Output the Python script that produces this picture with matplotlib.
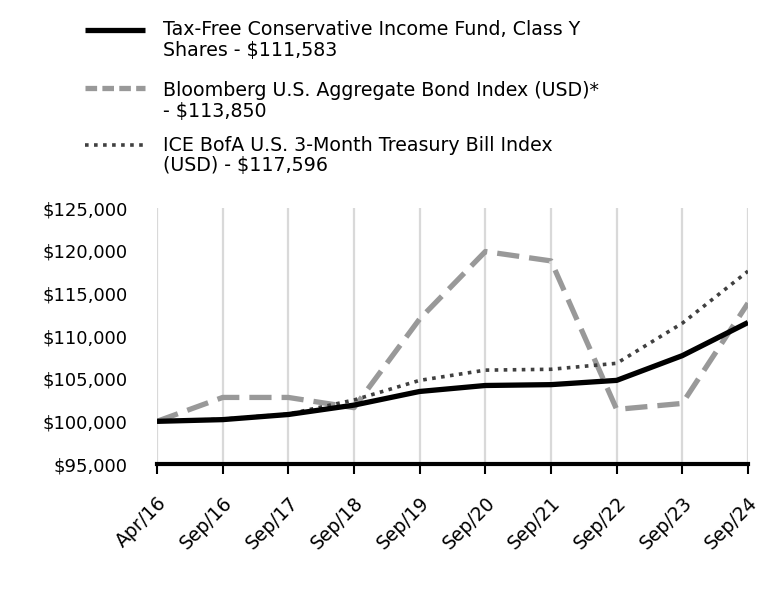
import matplotlib
matplotlib.use("Agg")
import matplotlib.pyplot as plt
from matplotlib.lines import Line2D
from matplotlib.ticker import FuncFormatter

plt.rcParams['font.family'] = ['DejaVu Sans']

dates = ["Apr/16", "Sep/16", "Sep/17", "Sep/18", "Sep/19", "Sep/20", "Sep/21", "Sep/22", "Sep/23", "Sep/24"]
fund = [100000, 100200, 100800, 101900, 103500, 104200, 104300, 104800, 107700, 111583]
bloomberg = [100000, 102800, 102800, 101600, 112000, 119900, 118800, 101400, 102100, 113850]
ice = [100000, 100250, 100850, 102500, 104800, 106000, 106100, 106800, 111500, 117596]

labels = ["Tax-Free Conservative Income Fund, Class Y\nShares - $111,583",
          "Bloomberg U.S. Aggregate Bond Index (USD)*\n- $113,850",
          "ICE BofA U.S. 3-Month Treasury Bill Index\n(USD) - $117,596"]
yticks = [95000, 100000, 105000, 110000, 115000, 120000, 125000]

W, H = 768, 612
fig = plt.figure(figsize=(W/100, H/100), dpi=100)
ax = fig.add_axes([157/W, 1-464/H, (748-157)/W, (464-208)/H])
x = list(range(len(dates)))

styles = [dict(color='black', lw=3.8, solid_capstyle='butt'),
          dict(color='#999999', lw=3.8, dashes=(4.2, 1.9)),
          dict(color='#404040', lw=2.6, dashes=(1, 1.5))]

ax.plot(x, fund, zorder=4, **styles[0])
ax.plot(x, bloomberg, zorder=3, **styles[1])
ax.plot(x, ice, zorder=3, **styles[2])

ax.set_xlim(0, len(dates)-1)
ax.set_ylim(95000, 125000)
ax.set_yticks(yticks)
ax.yaxis.set_major_formatter(FuncFormatter(lambda v, p: f"${v:,.0f}"))
ax.set_xticks(x)
ax.set_xticklabels(dates, rotation=45, ha='right', rotation_mode='anchor')
ax.grid(axis='x', color='#d9d9d9', lw=1.6)
ax.set_axisbelow(True)
for s in ['left', 'right', 'top']:
    ax.spines[s].set_visible(False)
ax.spines['bottom'].set_linewidth(3)
ax.spines['bottom'].set_color('black')
ax.tick_params(axis='y', length=0, labelsize=13, pad=21)
ax.tick_params(axis='x', length=7, width=1.5, color='black', labelsize=13.5, pad=14, direction='out')

# legend (manual, handles aligned to first text line)
handle_y = [30, 88, 145]
text_y = [40, 101, 155.5]
legend_styles = [dict(color='black', lw=3.8, solid_capstyle='butt'),
                 dict(color='#999999', lw=3.8, dashes=(2.2, 1.0)),
                 dict(color='#404040', lw=2.6, dashes=(1, 1.5))]
for hy, ty, lab, st in zip(handle_y, text_y, labels, legend_styles):
    fig.add_artist(Line2D([85/W, 145/W], [1-hy/H, 1-hy/H], transform=fig.transFigure, **st))
    fig.text(163/W, 1-ty/H, lab, fontsize=13.7, va='center', ha='left', linespacing=1.1)

fig.savefig("out.png", dpi=100)
